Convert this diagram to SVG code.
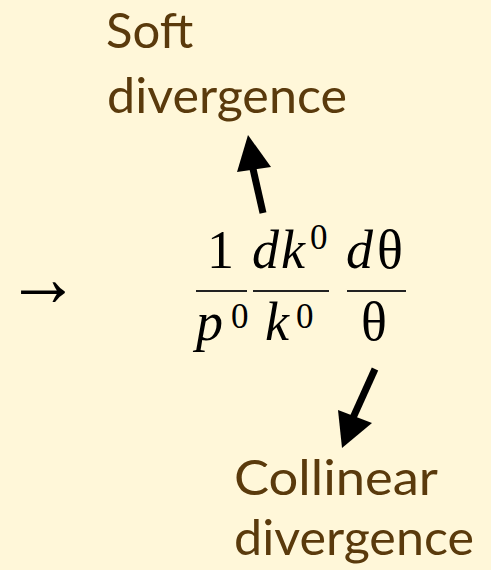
<svg xmlns="http://www.w3.org/2000/svg" width="491" height="570" viewBox="0 0 491 570">
<style>
.lbl{font-family:"Gill Sans","Lato","Liberation Sans",sans-serif;font-size:49px;fill:#5a3a0c}
.m{font-family:"Liberation Serif","Times New Roman",serif;fill:#000}
.i{font-style:italic}
.big{font-size:54px}
.sup{font-size:35px}
.bar{stroke:#222;stroke-width:2}
</style>
<rect width="491" height="570" fill="#fff7d9"/>
<g id="soft">
<text class="lbl" x="106" y="48">Soft</text>
<text class="lbl" x="107" y="113" textLength="240" lengthAdjust="spacingAndGlyphs">divergence</text>
</g>
<g id="collinear">
<text class="lbl" x="234" y="495" textLength="204" lengthAdjust="spacingAndGlyphs">Collinear</text>
<text class="lbl" x="234" y="555" textLength="240" lengthAdjust="spacingAndGlyphs">divergence</text>
</g>
<g id="formula">
<text class="m" font-size="84" x="6" y="306" textLength="74" lengthAdjust="spacingAndGlyphs">→</text>
<text class="m big" x="207" y="268">1</text>
<line class="bar" x1="196" y1="291" x2="247" y2="291"/>
<text class="m big i" x="196" y="340">p</text>
<text class="m sup" x="231" y="328">0</text>
<text class="m big i" x="252" y="268">d</text>
<text class="m big i" x="281" y="268">k</text>
<text class="m sup" x="310" y="249">0</text>
<line class="bar" x1="253" y1="291" x2="329" y2="291"/>
<text class="m big i" x="265" y="340">k</text>
<text class="m sup" x="296" y="328">0</text>
<text class="m big i" x="346" y="268">d</text>
<text class="m big" x="377" y="268">θ</text>
<line class="bar" x1="347" y1="291" x2="406" y2="291"/>
<text class="m big" x="361" y="340">θ</text>
</g>
<g id="connectors">
<line x1="263" y1="213" x2="251" y2="160" stroke="#000" stroke-width="7"/>
<path d="M248,135 L271,167 L237,172 Z" fill="#000"/>
<line x1="375" y1="369" x2="352" y2="420" stroke="#000" stroke-width="7"/>
<path d="M342,448 L338,410 L372,423 Z" fill="#000"/>
</g>
</svg>
